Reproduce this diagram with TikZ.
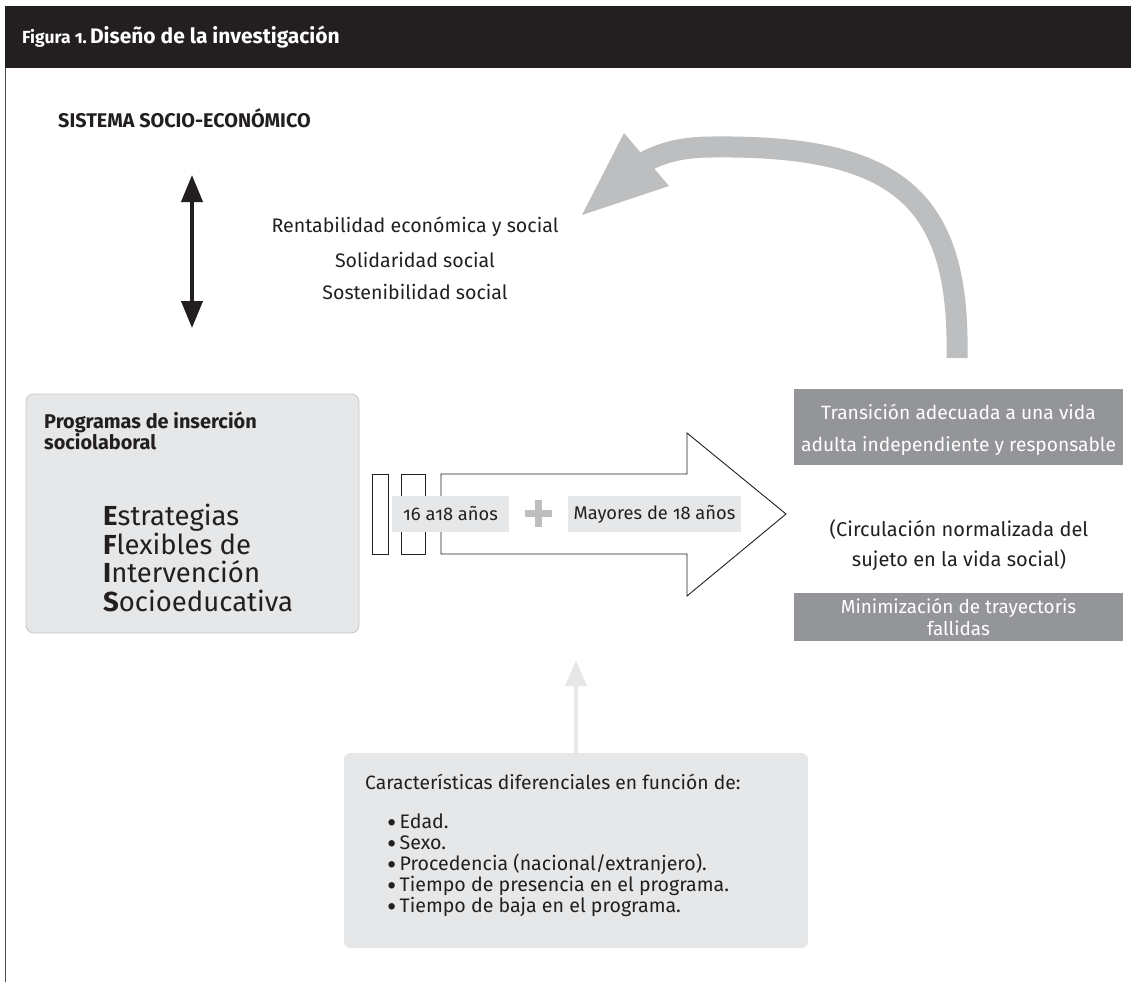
\documentclass[tikz,border=0pt]{standalone}
\usepackage{fontspec}
\setmainfont{Fira Sans}[Numbers=OldStyle]
\usetikzlibrary{arrows.meta}
\definecolor{hdrblack}{HTML}{231F20}
\definecolor{lightgray}{HTML}{E6E7E8}
\definecolor{midgray}{HTML}{939598}
\definecolor{curvegray}{HTML}{BCBEC0}
\definecolor{bordergray}{HTML}{C4C5C7}
\newcommand{\fs}[2]{\fontsize{#1}{#2}\selectfont}
\newcommand{\bul}{\smash{\raisebox{-0.16em}{\scalebox{1.45}{\textbullet}}}\,}
\tikzset{
  txt/.style={inner sep=0pt, text=hdrblack},
  lbl/.style={fill=lightgray, inner sep=0pt, minimum height=36pt, text=hdrblack, font=\fs{18.3}{20}},
  darkbox/.style={fill=midgray, text=white, inner sep=0pt, minimum width=329pt, align=center},
  dbl/.style={line width=4pt, hdrblack, {Triangle[width=21pt,length=27pt]}-{Triangle[width=21pt,length=27pt]}},
}
\begin{document}
\begin{tikzpicture}[x=1pt,y=-1pt]
\useasboundingbox (0,0) rectangle (1131,982);
% header
\fill[hdrblack] (5,6) rectangle (1131,68);
\node[anchor=base west, text=white, inner sep=0pt] (title) at (22,44)
  {\bfseries{\fs{17.5}{19}Figura 1.} \fs{21}{23}Diseño de la investigación};
\draw[hdrblack!80, line width=0.9pt] (5,68) -- (5,982);

% sistema
\node[txt, anchor=west, font=\bfseries\fs{19.8}{22}] (sis) at (58,118) {SISTEMA SOCIO-ECONÓMICO};

% double arrow
\coordinate (dtop) at (192,175);
\coordinate (dbot) at (192,328);
\draw[dbl] (dtop) -- (dbot);

% values
\node[txt, font=\fs{19.6}{22}] (v1) at (415,227) {Rentabilidad económica y social};
\node[txt, font=\fs{19.6}{22}] (v2) at (415,260) {Solidaridad social};
\node[txt, font=\fs{19.6}{22}] (v3) at (415,292) {Sostenibilidad social};

% curved arrow
\coordinate (cstart) at (957,358);
\coordinate (ctip) at (582,215);
\draw[curvegray, line width=21pt] (cstart) .. controls (960,200) and (900,145) .. (713,147)
   .. controls (680,147) and (655,153) .. (628,172);
\fill[curvegray] (ctip) -- (624,133) -- (669,186) -- cycle;

% left box
\draw[bordergray, fill=lightgray, rounded corners=8pt, line width=0.8pt] (26,394) rectangle (359,633);
\node[txt, anchor=north west, align=left, font=\bfseries\fs{19.9}{21}] (prog) at (44,412)
  {Programas de inserción\\sociolaboral};
\node[txt, anchor=north west, align=left, font=\fs{27.5}{28.5}] (efis) at (103,504)
  {\textbf{E}strategias\\\textbf{F}lexibles de\\\textbf{I}ntervención\\\textbf{S}ocioeducativa};

% block arrow
\draw[hdrblack, line width=0.9pt] (372,474) rectangle (388,554);
\draw[hdrblack, line width=0.9pt] (401,474) rectangle (425,554);
\draw[hdrblack, line width=0.9pt, fill=white] (441,474) -- (687,474) -- (687,433) -- (786,514)
   -- (687,596) -- (687,554) -- (441,554) -- cycle;
\node[lbl, minimum width=117pt] (age1) at (450.5,514) {16 a18 años};
\node[lbl, minimum width=173pt] (age2) at (654.5,514) {Mayores de 18 años};
\fill[curvegray] (525,510) rectangle (552,517);
\fill[curvegray] (535,500) rectangle (542,527);

% right boxes
\node[darkbox, minimum height=76pt, font=\fs{19.2}{32}] (trans) at (958.5,427) {};
\node[text=white, inner sep=0pt, align=center, font=\fs{19.2}{32}] (transtxt) at (958.5,430)
  {Transición adecuada a una vida\\adulta independiente y responsable};
\node[txt, align=center, font=\fs{20}{30}] (circ) at (959,545)
  {(Circulación normalizada del\\sujeto en la vida social)};
\node[darkbox, minimum height=48pt, font=\fs{18.9}{22}] (mini) at (958.5,617)
  {Minimización de trayectoris\\fallidas};

% bottom box
\fill[lightgray, rounded corners=6pt] (344,753) rectangle (808,948);
\coordinate (carac) at (576,753);
\coordinate (uptip) at (576,660);
\draw[lightgray, line width=4pt, -{Triangle[width=21pt,length=26pt]}] (carac) -- (uptip);
\node[txt, anchor=west, font=\fs{19.3}{21}] (cdt) at (365,782) {Características diferenciales en función de:};
\node[txt, anchor=north west, align=left, font=\fs{19.6}{21}] (list) at (387,814)
  {\bul Edad.\\\bul Sexo.\\\bul Procedencia (nacional/extranjero).\\\bul Tiempo de presencia en el programa.\\\bul Tiempo de baja en el programa.};
\end{tikzpicture}
\end{document}
